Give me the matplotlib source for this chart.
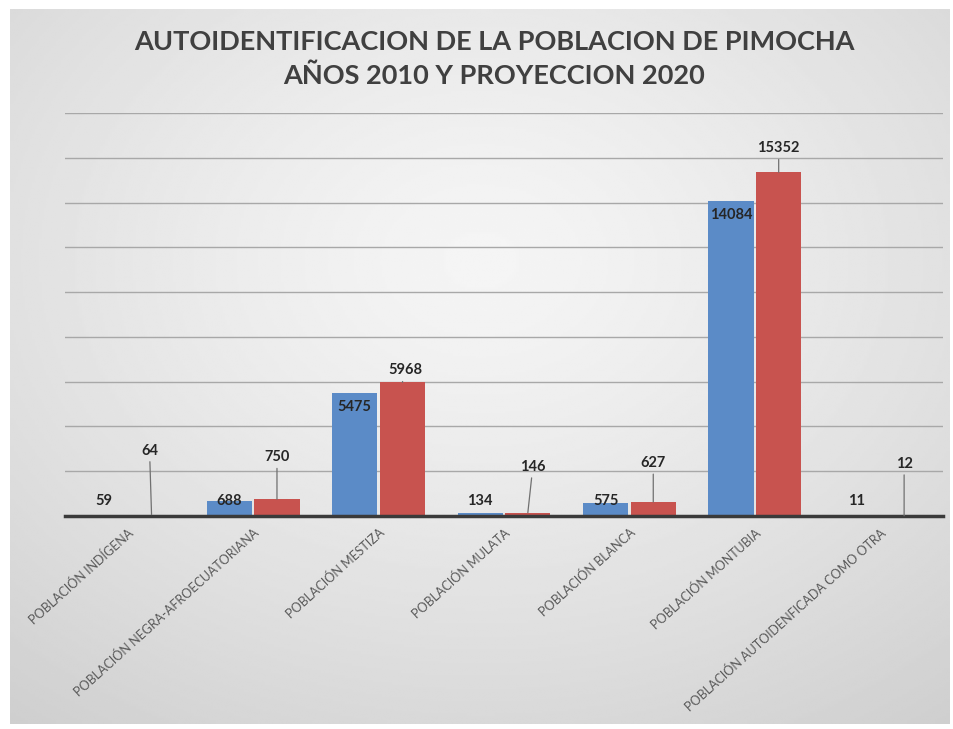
import numpy as np
import matplotlib
matplotlib.use("Agg")
import matplotlib.pyplot as plt

# Data
categories = [
    "POBLACIÓN INDÍGENA",
    "POBLACIÓN NEGRA-AFROECUATORIANA",
    "POBLACIÓN MESTIZA",
    "POBLACIÓN MULATA",
    "POBLACIÓN BLANCA",
    "POBLACIÓN MONTUBIA",
    "POBLACIÓN AUTOIDENFICADA COMO OTRA",
]
pop_2010 = [59, 688, 5475, 134, 575, 14084, 11]
pop_2020 = [64, 750, 5968, 146, 627, 15352, 12]
title = "AUTOIDENTIFICACION DE LA POBLACION DE PIMOCHA\nAÑOS 2010 Y PROYECCION 2020"

# Callout offsets (pixels) for the 2020 labels
callout_dx = [-2, 0, 3, 5, 0, 0, 0]
callout_dy = [64, 42, 12, 46, 39, 24, 52]

W, H, DPI = 954, 729, 100
fig = plt.figure(figsize=(W / DPI, H / DPI), dpi=DPI)
fig.patch.set_facecolor("white")

# Radial gray gradient panel
bg = fig.add_axes([10 / W, 1 - 724 / H, 940 / W, 715 / H])
ny, nx = 300, 400
yy, xx = np.mgrid[0:ny, 0:nx]
cx, cy = nx * 0.5, ny * 0.35
r = np.sqrt(((xx - cx) / nx) ** 2 + ((yy - cy) / ny) ** 2)
r = r / r.max()
light, dark = 0.96, 0.81
img = light - (light - dark) * r ** 1.3
bg.imshow(img, cmap="gray", vmin=0, vmax=1, aspect="auto",
          extent=[0, 1, 0, 1], interpolation="bilinear")
bg.set_axis_off()

# Plot area
ax = fig.add_axes([65 / W, 213 / H, 878 / W, 403 / H])
ax.set_facecolor("none")
x = np.arange(len(categories))
bw = 0.36
off = 0.19
blue = "#5B8BC7"
red = "#C8534F"
ax.bar(x - off, pop_2010, width=bw, color=blue, zorder=3)
ax.bar(x + off, pop_2020, width=bw, color=red, zorder=3)

ax.set_xlim(-0.5, len(categories) - 0.5)
ax.set_ylim(0, 18000)
ax.set_yticks(np.arange(2000, 18001, 2000))
ax.yaxis.grid(True, color="#a8a8a8", lw=1.0, zorder=0)
ax.tick_params(axis="y", left=False, labelleft=False)
for s in ["top", "right", "left"]:
    ax.spines[s].set_visible(False)
ax.spines["bottom"].set_color("#3a3a3a")
ax.spines["bottom"].set_linewidth(2.5)
ax.spines["bottom"].set_zorder(4)

ax.set_xticks(x)
ax.set_xticklabels(categories, rotation=42, ha="right", rotation_mode="anchor",
                   fontsize=9, color="#595959", family="Lato")
for lbl in ax.get_xticklabels():
    lbl.set_x(lbl.get_position()[0])
ax.tick_params(axis="x", bottom=False, pad=4)

upp = 18000 / 403.0  # data units per pixel

# 2010 labels: inside the bar top, or just above the axis for short bars
for xi, v in zip(x, pop_2010):
    ly = max(v - 14 * upp, 15 * upp)
    ax.text(xi - off, ly, str(v), ha="center", va="center", fontsize=10.5,
            fontweight="bold", color="#262626", family="Lato", zorder=5)

# 2020 labels with leader lines
for xi, v, dx, dy in zip(x, pop_2020, callout_dx, callout_dy):
    ax.annotate(str(v), xy=(xi + off, v), xytext=(dx, dy),
                textcoords="offset pixels", ha="center", va="center",
                fontsize=10.5, fontweight="bold", color="#262626", family="Lato",
                arrowprops=dict(arrowstyle="-", color="#707070", lw=0.9,
                                shrinkA=1, shrinkB=0),
                zorder=5)

fig.text(494 / W, 1 - 59 / H, title, ha="center", va="center",
         fontsize=19.5, fontweight="bold", color="#404040", family="Lato",
         linespacing=1.5)

fig.savefig("out.png", dpi=DPI, facecolor=fig.get_facecolor())
